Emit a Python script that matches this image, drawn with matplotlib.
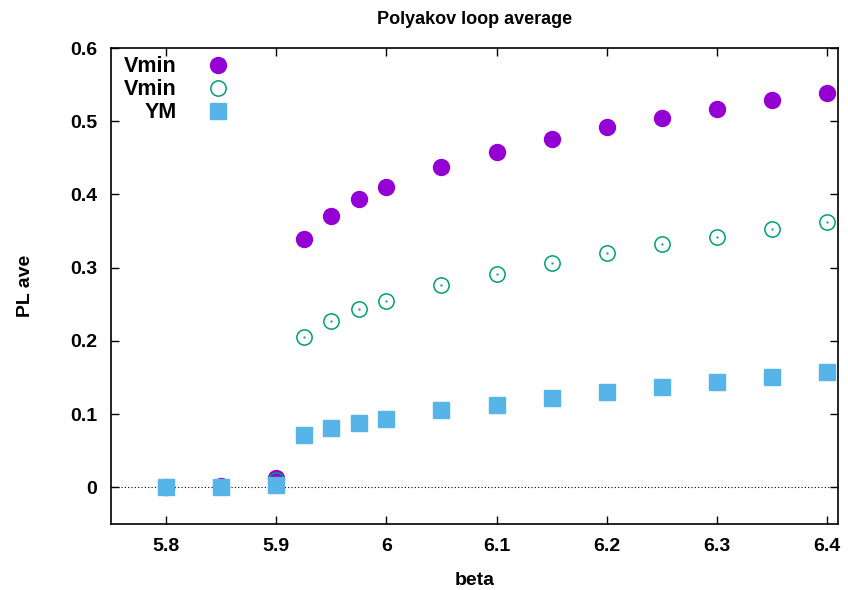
import matplotlib
matplotlib.use("Agg")
import matplotlib.pyplot as plt
from matplotlib.ticker import FuncFormatter

plt.rcParams['font.family'] = ['Liberation Sans', 'DejaVu Sans']
plt.rcParams['font.weight'] = 'bold'

beta = [5.8, 5.85, 5.9, 5.925, 5.95, 5.975, 6.0, 6.05, 6.1, 6.15, 6.2, 6.25, 6.3, 6.35, 6.4]

vmin_filled = [0.0, 0.002, 0.013, 0.339, 0.371, 0.394, 0.410, 0.437, 0.458,
               0.476, 0.492, 0.504, 0.517, 0.529, 0.539]
vmin_open = [0.0, 0.0, 0.010, 0.206, 0.227, 0.243, 0.255, 0.276, 0.292,
             0.307, 0.320, 0.332, 0.342, 0.353, 0.362]
ym = [0.0, 0.0, 0.003, 0.072, 0.081, 0.088, 0.094, 0.105, 0.113,
      0.122, 0.130, 0.137, 0.144, 0.151, 0.158]

fig = plt.figure(figsize=(8.48, 5.9), dpi=100)
ax = fig.add_axes([0.1309, 0.1119, 0.8573, 0.8067])

ax.axhline(0, color='black', lw=0.8, ls=(0, (1, 2)), zorder=1)

ax.plot(beta, vmin_filled, ls='none', marker='o', ms=11.5, color='#9400D3',
        mec='#9400D3', label='Vmin', zorder=3)
ax.plot(beta, vmin_open, ls='none', marker='o', ms=11, mfc='none',
        mec='#009E73', mew=1.1, label='Vmin', zorder=4)
ax.plot(beta, vmin_open, ls='none', marker='.', ms=1.2, color='#009E73', zorder=4)
ax.plot(beta, ym, ls='none', marker='s', ms=11, color='#56B4E9',
        mec='#56B4E9', label='YM', zorder=5)

ax.set_xlim(5.75, 6.41)
ax.set_ylim(-0.05, 0.6)
ax.set_xticks([5.8, 5.9, 6.0, 6.1, 6.2, 6.3, 6.4])
ax.set_yticks([0, 0.1, 0.2, 0.3, 0.4, 0.5, 0.6])
fmt = FuncFormatter(lambda v, p: '%g' % round(v, 3))
ax.xaxis.set_major_formatter(fmt)
ax.yaxis.set_major_formatter(fmt)

ax.tick_params(direction='in', length=6, width=1, labelsize=14,
               top=True, right=True, pad=10)
for s in ax.spines.values():
    s.set_linewidth(1.2)

ax.set_xlabel('beta', fontsize=14, fontweight='bold', labelpad=12)
ax.set_ylabel('PL ave', fontsize=14, fontweight='bold', labelpad=26)
ax.set_title('Polyakov loop average', fontsize=13, fontweight='bold', pad=17)

ax.legend(loc='upper left', frameon=False, markerfirst=False, fontsize=15.5,
          handlelength=1.2, handletextpad=1.3, labelspacing=0.1,
          borderaxespad=0.2, bbox_to_anchor=(0.0, 1.01))

fig.savefig('out.png', dpi=100)
